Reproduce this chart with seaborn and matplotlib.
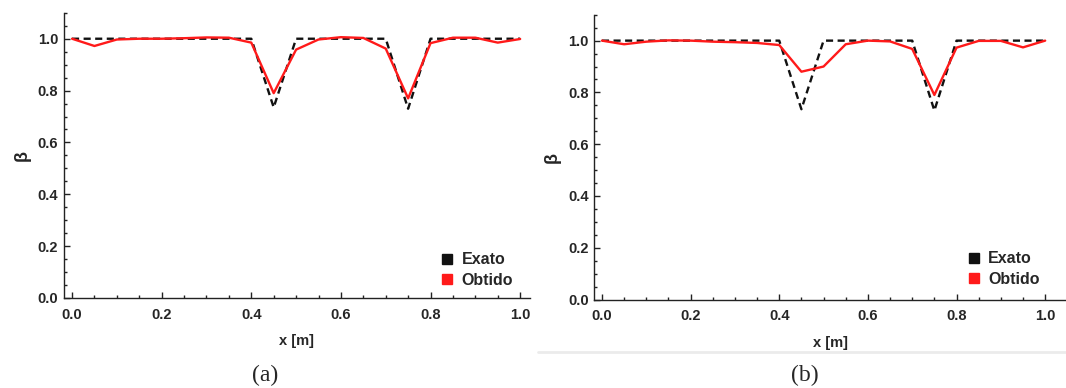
import numpy as np
import pandas as pd
import matplotlib
matplotlib.use("Agg")
import matplotlib.pyplot as plt
from matplotlib.lines import Line2D
from matplotlib.ticker import MultipleLocator, FormatStrFormatter
import seaborn as sns

# ---- data ----
x_exact = [0.0, 0.4, 0.45, 0.5, 0.7, 0.75, 0.8, 1.0]
beta_exact_a = [1.0, 1.0, 0.735, 1.0, 1.0, 0.73, 1.0, 1.0]
beta_exact_b = [1.0, 1.0, 0.735, 1.0, 1.0, 0.73, 1.0, 1.0]

x_obt = [0.0, 0.05, 0.1, 0.15, 0.2, 0.25, 0.3, 0.35, 0.4, 0.45, 0.5,
         0.55, 0.6, 0.65, 0.7, 0.75, 0.8, 0.85, 0.9, 0.95, 1.0]
beta_obt_a = [1.0, 0.972, 0.997, 1.0, 1.0, 1.002, 1.005, 1.004, 0.985, 0.79, 0.958,
              0.997, 1.006, 1.003, 0.962, 0.77, 0.983, 1.004, 1.004, 0.985, 0.999]
beta_obt_b = [1.0, 0.986, 0.996, 1.001, 1.0, 0.996, 0.994, 0.991, 0.983, 0.88, 0.90,
              0.986, 1.0, 0.997, 0.968, 0.79, 0.973, 0.999, 0.999, 0.974, 1.0]

legend_labels = ["Exato", "Obtido"]
panel_labels = ["(a)", "(b)"]
xlabel = "x [m]"
ylabel = "β"

sns.set_theme(style="white")
plt.rcParams['font.family'] = ['Liberation Sans', 'DejaVu Sans']

fig = plt.figure(figsize=(10.66, 3.88), dpi=100)
ax_a = fig.add_axes([0.0598, 0.232, 0.4374, 0.735])
ax_b = fig.add_axes([0.5575, 0.228, 0.4425, 0.734])

panels = [
    (ax_a, beta_exact_a, beta_obt_a, (-0.0185, 1.022), (0.805, 0.035)),
    (ax_b, beta_exact_b, beta_obt_b, (-0.0173, 1.047), (0.787, 0.045)),
]

for ax, be, bo, xl, lg in panels:
    de = pd.DataFrame({"x": x_exact, "beta": be})
    do = pd.DataFrame({"x": x_obt, "beta": bo})
    sns.lineplot(data=de, x="x", y="beta", ax=ax, color="#111111",
                 linewidth=1.7, dashes=False, zorder=2, estimator=None)
    ax.lines[-1].set_dashes((3.0, 1.9))
    sns.lineplot(data=do, x="x", y="beta", ax=ax, color="#ff1a1a",
                 linewidth=1.7, zorder=3, estimator=None)
    ax.set_xlim(*xl)
    ax.set_ylim(0, 1.1)
    ax.xaxis.set_major_locator(MultipleLocator(0.2))
    ax.xaxis.set_minor_locator(MultipleLocator(0.05))
    ax.yaxis.set_major_locator(MultipleLocator(0.2))
    ax.yaxis.set_minor_locator(MultipleLocator(0.05))
    ax.xaxis.set_major_formatter(FormatStrFormatter("%.1f"))
    ax.yaxis.set_major_formatter(FormatStrFormatter("%.1f"))
    ax.tick_params(which="both", direction="in", left=True, bottom=True,
                   top=False, right=False, color="#222222", width=1.0)
    ax.tick_params(which="major", length=4.5, labelsize=10.5, pad=4)
    ax.tick_params(axis="x", which="major", pad=7)
    ax.tick_params(which="minor", length=2.5)
    for lab in ax.get_xticklabels() + ax.get_yticklabels():
        lab.set_fontweight("bold")
    for s in ["top", "right"]:
        ax.spines[s].set_visible(False)
    for s in ["left", "bottom"]:
        ax.spines[s].set_color("#222222")
        ax.spines[s].set_linewidth(1.0)
    ax.set_xlabel(xlabel, fontsize=10.5, fontweight="bold", labelpad=9)
    ax.set_ylabel(ylabel, fontsize=13, fontweight="bold", labelpad=5)
    ax.set_facecolor("white")
    handles = [Line2D([], [], marker="s", linestyle="none", color="#111111", markersize=7.5),
               Line2D([], [], marker="s", linestyle="none", color="#ff1a1a", markersize=7.5)]
    ax.legend(handles, legend_labels, loc="lower left", bbox_to_anchor=lg,
              frameon=False, prop={"weight": "bold", "size": 11.5},
              handletextpad=0.4, labelspacing=0.35, borderaxespad=0.0,
              borderpad=0.0, handlelength=1.0)

# separator line under panel (b)
fig.add_artist(Line2D([538 / 1066, 1.0], [1 - 352 / 388, 1 - 352 / 388],
                      color="#ebebeb", linewidth=2.0, transform=fig.transFigure))

fig.text(265 / 1066, 1 - 375 / 388, panel_labels[0], ha="center", va="center",
         fontsize=17, family=["Liberation Serif", "DejaVu Serif"])
fig.text(805 / 1066, 1 - 375 / 388, panel_labels[1], ha="center", va="center",
         fontsize=17, family=["Liberation Serif", "DejaVu Serif"])

fig.savefig("out.png", dpi=100, facecolor="white")
